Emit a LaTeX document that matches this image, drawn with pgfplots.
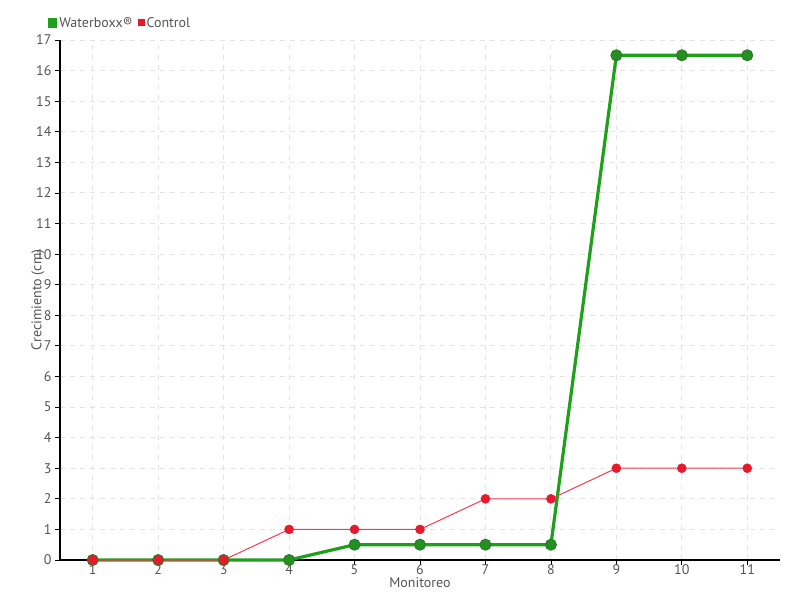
\documentclass[border=0pt]{standalone}
\usepackage{pgfplots}
\pgfplotsset{compat=1.18}
\usepackage{fontspec}
\setmainfont{PT Sans}
\definecolor{txt}{HTML}{555555}
\definecolor{gridc}{HTML}{E4E4E4}
\definecolor{wgreen}{HTML}{1FA01A}
\definecolor{wmark}{HTML}{23901F}
\definecolor{wedge}{HTML}{2E7A2A}
\definecolor{cline}{HTML}{F23C50}
\definecolor{cmark}{HTML}{E8192C}
\begin{document}
\begin{tikzpicture}
\begin{axis}[
  scale only axis,
  width=720pt, height=520pt,
  xmin=0.5, xmax=11.5, ymin=0, ymax=17,
  xtick={1,...,11}, ytick={0,1,...,17},
  axis x line=bottom, axis y line=left,
  axis line style={-, black, line width=1.3pt},
  tick align=outside, major tick length=5pt,
  tick style={black, line width=0.8pt},
  grid=major,
  grid style={gridc, dash pattern=on 5pt off 5pt, line width=0.9pt},
  ticklabel style={font=\fontsize{14}{16}\selectfont, text=txt},
  /pgf/number format/assume math mode=true,
  xticklabel style={yshift=4pt},
  xlabel={Monitoreo}, ylabel={Crecimiento (cm)},
  label style={font=\fontsize{14}{16}\selectfont, text=txt},
  xlabel style={yshift=4pt},
  ylabel style={yshift=-15pt},
  legend style={at={(0,1)}, anchor=west, xshift=-15pt, yshift=17pt,
    draw=none, fill=none, font=\fontsize{14}{16}\selectfont, text=txt,
    /tikz/every even column/.append style={column sep=3pt}},
  legend columns=2,
  clip=false,
]
\addplot[wgreen, line width=3.2pt, mark=*, mark size=5.5pt,
  mark options={fill=wmark, draw=wedge, line width=1pt},
  legend image code/.code={\fill[wgreen] (3pt,-3pt) rectangle (9pt,3pt);}]
  coordinates {(1,0) (2,0) (3,0) (4,0) (5,0.5) (6,0.5) (7,0.5) (8,0.5) (9,16.5) (10,16.5) (11,16.5)};
\addlegendentry{Waterboxx®}
\addplot[cline, line width=1pt, mark=*, mark size=4.5pt,
  mark options={fill=cmark, draw=cmark, line width=0.5pt},
  legend image code/.code={\fill[cmark] (3pt,-3pt) rectangle (9pt,3pt);}]
  coordinates {(1,0) (2,0) (3,0) (4,1) (5,1) (6,1) (7,2) (8,2) (9,3) (10,3) (11,3)};
\addlegendentry{Control}
\end{axis}
\pgfresetboundingbox
\path[use as bounding box] ([xshift=-60pt,yshift=-40pt]current axis.south west) rectangle ([xshift=20pt,yshift=40pt]current axis.north east);
\end{tikzpicture}
\end{document}
